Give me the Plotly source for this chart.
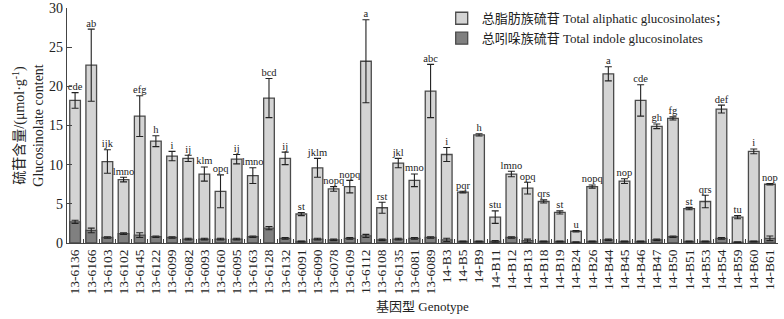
import plotly.graph_objects as go

genotypes = ["13-6136", "13-6166", "13-6103", "13-6102", "13-6145", "13-6122", "13-6099", "13-6082",
             "13-6093", "13-6160", "13-6095", "13-6163", "13-6128", "13-6132", "13-6091", "13-6090",
             "13-6078", "13-6109", "13-6112", "13-6108", "13-6135", "13-6081", "13-6089",
             "14-B3", "14-B5", "14-B9", "14-B11", "14-B12", "14-B13", "14-B18", "14-B19", "14-B24",
             "14-B26", "14-B44", "14-B45", "14-B46", "14-B47", "14-B50", "14-B51", "14-B53", "14-B54",
             "14-B59", "14-B60", "14-B61"]

aliphatic = [18.2, 22.7, 10.4, 8.1, 16.2, 13.0, 11.1, 10.8, 8.8, 6.6, 10.7, 8.6, 18.5, 10.8, 3.7, 9.6,
             6.9, 7.2, 23.2, 4.5, 10.2, 8.0, 19.4,
             11.3, 6.5, 13.8, 3.3, 8.8, 7.0, 5.3, 3.9, 1.5, 7.2, 21.6, 7.9, 18.2, 14.9, 15.9, 4.4, 5.3,
             17.1, 3.3, 11.7, 7.5]
aliphatic_err = [1.0, 4.6, 1.5, 0.3, 2.6, 0.7, 0.6, 0.4, 0.9, 2.1, 0.6, 1.0, 2.5, 0.8, 0.2, 1.2,
                 0.3, 0.8, 5.3, 0.7, 0.6, 0.8, 3.4,
                 0.9, 0.1, 0.15, 0.8, 0.35, 0.75, 0.2, 0.2, 0.1, 0.2, 0.9, 0.3, 2.0, 0.3, 0.2, 0.15, 0.8,
                 0.5, 0.2, 0.3, 0.1]
letters = ["cde", "ab", "ijk", "lmno", "efg", "h", "i", "ij", "klm", "opq", "ij", "lmno", "bcd", "ij",
           "st", "jklm", "nopq", "nopq", "a", "rst", "jkl", "mno", "abc",
           "i", "pqr", "h", "stu", "lmno", "opq", "qrs", "st", "u", "nopq", "a", "nop", "cde", "gh",
           "fg", "st", "qrs", "def", "tu", "i", "nop"]
indole = [2.7, 1.6, 0.7, 1.2, 1.0, 0.8, 0.7, 0.5, 0.5, 0.5, 0.5, 0.8, 1.9, 0.6, 0.2, 0.5,
          0.4, 0.6, 0.9, 0.4, 0.5, 0.6, 0.7,
          0.4, 0.2, 0.2, 0.2, 0.7, 0.3, 0.2, 0.2, 0.1, 0.2, 0.4, 0.2, 0.2, 0.4, 0.8, 0.2, 0.2,
          0.6, 0.1, 0.2, 0.6]
indole_err = [0.2, 0.3, 0.1, 0.1, 0.3, 0.1, 0.1, 0.1, 0.1, 0.1, 0.1, 0.1, 0.2, 0.1, 0.05, 0.1,
              0.1, 0.1, 0.2, 0.1, 0.1, 0.1, 0.1,
              0.2, 0.05, 0.05, 0.1, 0.1, 0.2, 0.05, 0.05, 0.05, 0.05, 0.1, 0.05, 0.05, 0.1, 0.1, 0.05, 0.05,
              0.1, 0.05, 0.05, 0.3]

serif = "Liberation Serif, Times New Roman, Noto Sans CJK SC, serif"

fig = go.Figure()
fig.add_trace(go.Bar(
    x=genotypes, y=aliphatic, name="总脂肪族硫苷 Total aliphatic glucosinolates；",
    marker=dict(color="#d4d4d4", line=dict(color="#4a4a4a", width=1.3)),
    error_y=dict(type="data", array=aliphatic_err, color="#222222", thickness=1.1, width=3.5),
    width=0.66,
))
fig.add_trace(go.Bar(
    x=genotypes, y=indole, name="总吲哚族硫苷 Total indole glucosinolates",
    marker=dict(color="#808080", line=dict(color="#4a4a4a", width=1.3)),
    error_y=dict(type="data", array=indole_err, color="#222222", thickness=1.1, width=3.5),
    width=0.66,
))
fig.add_trace(go.Scatter(
    x=genotypes, y=[a + e for a, e in zip(aliphatic, aliphatic_err)], text=letters,
    mode="text", textposition="top center", showlegend=False, hoverinfo="skip",
    textfont=dict(family=serif, size=10.5, color="#222222"),
))

fig.update_layout(
    width=784, height=319,
    barmode="overlay",
    plot_bgcolor="white", paper_bgcolor="white",
    margin=dict(l=67, r=6, t=8, b=76, autoexpand=False),
    font=dict(family=serif, color="#222222"),
    legend=dict(x=0.527, y=1.02, xanchor="left", yanchor="top", bgcolor="rgba(0,0,0,0)",
                font=dict(family=serif, size=13), tracegroupgap=0, itemwidth=30),
    xaxis=dict(
        range=[-0.5, len(genotypes) - 0.5],
        tickmode="linear", tick0=0, dtick=1,
        showline=True, linecolor="#444444", linewidth=1.2,
        ticks="inside", ticklen=4, tickcolor="#444444", tickson="boundaries",
        tickangle=-90, tickfont=dict(family=serif, size=13.5),
        title=dict(text="基因型 Genotype", font=dict(family=serif, size=13), standoff=8),
        automargin=False,
    ),
    yaxis=dict(
        range=[0, 30], tickvals=[0, 5, 10, 15, 20, 25, 30],
        showline=True, linecolor="#444444", linewidth=1.2,
        ticks="inside", ticklen=5, tickcolor="#444444",
        showgrid=False, zeroline=False,
        tickfont=dict(family=serif, size=14),
        title=dict(text="硫苷含量/(μmol·g<sup>-1</sup>)<br>Glucosinolate content",
                   font=dict(family=serif, size=14), standoff=2),
        automargin=False,
    ),
)

fig.write_html("out.html", config={"displayModeBar": False},
               post_script="document.body.style.margin='0';document.body.style.padding='0';")
